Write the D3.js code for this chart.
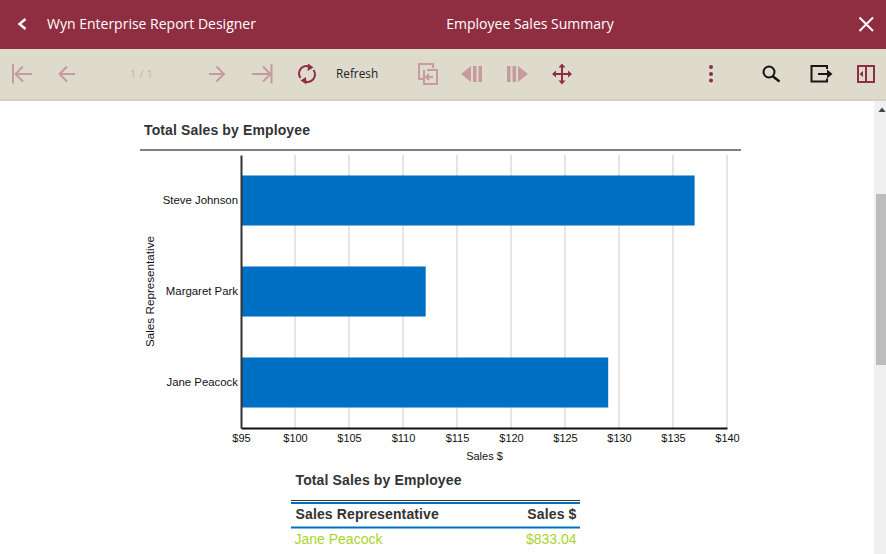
<!DOCTYPE html>
<html>
<head>
<meta charset="utf-8">
<script src="https://cdn.jsdelivr.net/npm/d3@7"></script>
<style>
html, body { margin: 0; padding: 0; background: #fff; overflow: hidden; }
svg { display: block; }
text { font-family: "Liberation Sans", Arial, sans-serif; }
.ui { font-family: "Open Sans", sans-serif; }
</style>
</head>
<body>
<svg id="page" width="886" height="554"></svg>
<script>
var categories = ["Steve Johnson", "Margaret Park", "Jane Peacock"];
var salesValues = [137, 112.1, 129];
var tickValues = [95, 100, 105, 110, 115, 120, 125, 130, 135, 140];
var tableHeaders = ["Sales Representative", "Sales $"];
var tableNames = ["Jane Peacock"];
var tableAmounts = ["$833.04"];

var maroon = "#8f2e41";
var fade = "#c79a9b";
var svg = d3.select("#page");

// barre du haut
svg.append("rect").attr("width", 886).attr("height", 49).attr("fill", maroon);
svg.append("rect").attr("y", 49).attr("width", 886).attr("height", 50).attr("fill", "#dfdbcc");
svg.append("rect").attr("y", 99).attr("width", 886).attr("height", 2).attr("fill", "#d5d1c2");

function uiText(x, y, txt, size, fill, anchor){
	return svg.append("text").attr("class", "ui").attr("x", x).attr("y", y)
		.attr("font-size", size).attr("fill", fill).attr("text-anchor", anchor || "start").text(txt);
}
function icon(d, stroke, width, fill){
	return svg.append("path").attr("d", d).attr("stroke", stroke || "none")
		.attr("stroke-width", width || 0).attr("fill", fill || "none");
}

icon("M25.5 19L19.5 24L25.5 29", "#fff", 2.4);
uiText(47, 29, "Wyn Enterprise Report Designer", 14, "#fff");
uiText(530, 29, "Employee Sales Summary", 14, "#fff", "middle");
icon("M859.5 17.5L873 31M873 17.5L859.5 31", "#fff", 2);

// navigation
icon("M13 64V83.5M32 74H16M23 66.5L15.5 74L23 81.5", fade, 2);
icon("M75 74H60M67 66.5L59.5 74L67 81.5", fade, 2);
uiText(141.5, 78, "1 / 1", 11.5, "#c9b5ac", "middle");
icon("M209 74H224M216.5 66.5L224 74L216.5 81.5", fade, 2);
icon("M252 74H270M263 66.5L270.5 74L263 81.5M271.5 64V83.5", fade, 2);

// refresh
icon("M300.5 78A7.5 7.5 0 0 1 311 67.5M313.5 70A7.5 7.5 0 0 1 303 80.5", maroon, 2);
icon("M308 63.5L313.5 67.5L307.5 71ZM306 77L300.5 80.5L306.5 84.5Z", null, 0, maroon);
uiText(336, 78, "Refresh", 11.8, "#222");

// boutons du milieu
icon("M423 79H419V64H433V68M424 70V84H437V70H427M433 77H426M429 74L426 77L429 80", fade, 2);
icon("M461 74L471 66V82ZM473 66H476.5V82H473ZM478.5 66H482V82H478.5Z", null, 0, fade);
icon("M507 66H510.5V82H507ZM512.5 66H516V82H512.5ZM518 66L528 74L518 82Z", null, 0, fade);
icon("M562 65V83M553 74H571", maroon, 2);
icon("M562 63.5L565.5 67.5H558.5ZM562 84.5L565.5 80.5H558.5ZM552 74L556 70.5V77.5ZM572 74L568 70.5V77.5Z", null, 0, maroon);

// trois points
svg.selectAll(".dot").data([67, 74, 80.5]).join("circle").attr("class", "dot")
	.attr("cx", 711).attr("cy", function(d){ return d; }).attr("r", 2).attr("fill", maroon);

// recherche, export, panneau
svg.append("circle").attr("cx", 769).attr("cy", 72).attr("r", 5.5)
	.attr("fill", "none").attr("stroke", "#111").attr("stroke-width", 2);
icon("M773 76.5L779.5 81.5", "#111", 2.4);
icon("M827 69V66H811.5V81.5H827V78.5M818 74H828", "#1f1414", 2);
icon("M827 69.5L832.5 74L827 78.5Z", null, 0, "#1f1414");
svg.append("rect").attr("x", 858).attr("y", 66).attr("width", 16).attr("height", 16)
	.attr("fill", "none").attr("stroke", maroon).attr("stroke-width", 2);
icon("M866 66V82", maroon, 2);
icon("M863 71V77L859.5 74Z", null, 0, maroon);

// barre de defilement
svg.append("rect").attr("x", 874).attr("y", 101).attr("width", 12).attr("height", 453).attr("fill", "#f0f0f0");
svg.append("rect").attr("x", 876).attr("y", 194).attr("width", 10).attr("height", 171).attr("fill", "#bdbdbd");
icon("M882 107.5L885.5 112H878.5Z", null, 0, "#444");

// titre du graphique
svg.append("text").attr("x", 144).attr("y", 135).attr("font-size", 14).attr("font-weight", "bold")
	.attr("fill", "#333").attr("letter-spacing", 0.13).text("Total Sales by Employee");
svg.append("line").attr("x1", 140).attr("x2", 741).attr("y1", 150).attr("y2", 150)
	.attr("stroke", "#808080").attr("stroke-width", 2);

// echelles
var x = d3.scaleLinear().domain([95, 140]).range([241, 727]);
var y = d3.scaleBand().domain(categories).range([155, 428]).paddingInner(0.45).paddingOuter(0.225);

// grille
svg.append("g").selectAll("line").data(tickValues.slice(1)).join("line")
	.attr("x1", function(d){ return x(d); }).attr("x2", function(d){ return x(d); })
	.attr("y1", 155).attr("y2", 428)
	.attr("stroke", "#dcdcdc").attr("stroke-width", 1.5);

// barres
svg.append("g").selectAll("rect").data(salesValues).join("rect")
	.attr("x", x(95))
	.attr("y", function(d, i){ return y(categories[i]); })
	.attr("width", function(d){ return x(d) - x(95); })
	.attr("height", y.bandwidth())
	.attr("fill", "#0070c5");

// axes
var axeX = d3.axisBottom(x).tickValues(tickValues).tickFormat(function(d){ return "$" + d; }).tickSize(0).tickPadding(6);
var gx = svg.append("g").attr("transform", "translate(0,428)").call(axeX);
gx.select(".domain").attr("stroke", "#111").attr("stroke-width", 2);
gx.selectAll("text").attr("font-size", 11).attr("fill", "#111").attr("font-family", "Liberation Sans");

var axeY = d3.axisLeft(y).tickSize(0).tickPadding(3);
var gy = svg.append("g").attr("transform", "translate(241,0)").call(axeY);
gy.select(".domain").attr("stroke", "#333").attr("stroke-width", 2);
gy.selectAll("text").attr("font-size", 11.4).attr("fill", "#111").attr("font-family", "Liberation Sans");

svg.append("text").attr("x", 484.5).attr("y", 460).attr("text-anchor", "middle")
	.attr("font-size", 11).attr("fill", "#111").text("Sales $");
svg.append("text").attr("transform", "translate(154,291.5) rotate(-90)").attr("text-anchor", "middle")
	.attr("font-size", 11.7).attr("fill", "#111").text("Sales Representative");

// tableau
svg.append("text").attr("x", 295.5).attr("y", 485).attr("font-size", 14).attr("font-weight", "bold")
	.attr("fill", "#333").attr("letter-spacing", 0.13).text("Total Sales by Employee");
svg.append("line").attr("x1", 291).attr("x2", 580).attr("y1", 500.5).attr("y2", 500.5).attr("stroke", "#333").attr("stroke-width", 1);
svg.append("line").attr("x1", 291).attr("x2", 580).attr("y1", 503).attr("y2", 503).attr("stroke", "#0070c5").attr("stroke-width", 2);
svg.append("line").attr("x1", 291).attr("x2", 580).attr("y1", 527.5).attr("y2", 527.5).attr("stroke", "#0070c5").attr("stroke-width", 2);
svg.append("text").attr("x", 295.5).attr("y", 519).attr("font-size", 14).attr("font-weight", "bold")
	.attr("fill", "#333").attr("letter-spacing", 0.13).text(tableHeaders[0]);
svg.append("text").attr("x", 576.5).attr("y", 519).attr("text-anchor", "end").attr("font-size", 14).attr("font-weight", "bold")
	.attr("fill", "#333").attr("letter-spacing", 0.13).text(tableHeaders[1]);
svg.append("g").selectAll("text").data(tableNames).join("text")
	.attr("x", 294.5).attr("y", 544).attr("font-size", 14).attr("fill", "#a9d52c")
	.text(function(d){ return d; });
svg.append("g").selectAll("text").data(tableAmounts).join("text")
	.attr("x", 576.5).attr("y", 544).attr("text-anchor", "end").attr("font-size", 14).attr("fill", "#a9d52c")
	.text(function(d){ return d; });
</script>
</body>
</html>
